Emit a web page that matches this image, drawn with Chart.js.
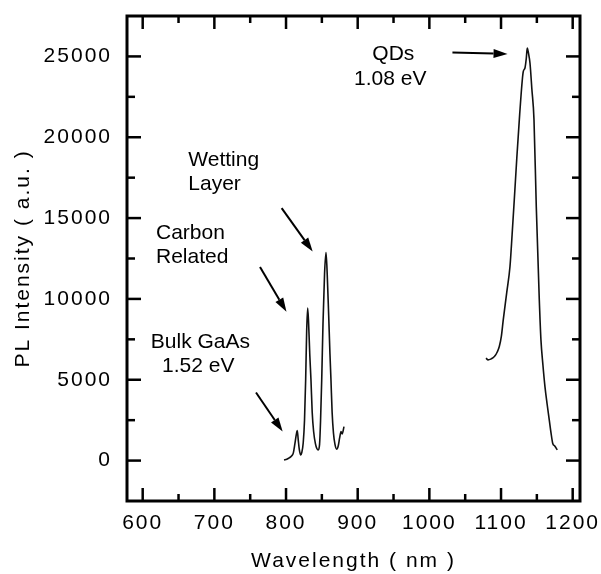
<!DOCTYPE html>
<html>
<head>
<meta charset="utf-8">
<script src="https://cdn.jsdelivr.net/npm/chart.js@4/dist/chart.umd.min.js"></script>
<style>
  body { margin: 0; background: #fff; }
  canvas { display: block; }
</style>
</head>
<body>
<canvas id="plot" width="601" height="574"></canvas>
<script>
// short wavelength part : bulk GaAs, carbon related, wetting layer
const wlShort = [797.2, 801, 805, 808, 810.1, 812.5, 814.3, 815.7, 817, 818.5, 820.5, 822, 824, 825.8, 827.4, 828.8, 830.2, 831.5, 833.2, 834.8, 836.5, 838.5, 841, 843, 845, 846.8, 848.2, 849.8, 851.6, 853.8, 855.8, 857.5, 859.5, 861.3, 862.7, 864.3, 866.2, 868.3, 870.7, 872.8, 874.8, 876.7, 878.3, 880.9];
const plShort = [40, 80, 180, 300, 460, 1080, 1600, 1860, 1300, 700, 350, 500, 1100, 2500, 5000, 8000, 9430, 8500, 6500, 5000, 3000, 1800, 1050, 750, 660, 1000, 2500, 5000, 8500, 11600, 12870, 11500, 9000, 6600, 5000, 3000, 1700, 1000, 705, 900, 1400, 1800, 1650, 2100];

// QD band
const wlQD = [1079.0, 1082, 1085.6, 1088.5, 1091.6, 1094.5, 1097.6, 1100.5, 1103.1, 1108, 1112.5, 1115.5, 1118.5, 1122, 1126, 1129.7, 1131.1, 1133.5, 1135.3, 1136.6, 1138.3, 1140.4, 1143, 1146.0, 1149.2, 1153.4, 1155.7, 1158.5, 1161.3, 1164.3, 1167.3, 1169.8, 1172.1, 1175, 1178.5];
const plQD = [6337, 6230, 6275, 6350, 6479, 6700, 7054, 7700, 8707, 10400, 12005, 14000, 16132, 18700, 21400, 23558, 24071, 24300, 24900, 25519, 25200, 24591, 23000, 21083, 15700, 9944, 7469, 5900, 4579, 3500, 2518, 1700, 1077, 900, 662];

const xTicks = [600, 700, 800, 900, 1000, 1100, 1200];
const xMinor = [650, 750, 850, 950, 1050, 1150];
const yTicks = [0, 5000, 10000, 15000, 20000, 25000];
const yMinor = [2500, 7500, 12500, 17500, 22500];

// labels, anchored in data units (baseline)
const notes = [
  { text: "QDs", x: 949.7, y: 24752, align: "center" },
  { text: "1.08 eV", x: 945.4, y: 23249, align: "center" },
  { text: "Wetting", x: 663.6, y: 18193, align: "left" },
  { text: "Layer", x: 663.6, y: 16708, align: "left" },
  { text: "Carbon", x: 618.6, y: 13700, align: "left" },
  { text: "Related", x: 618.6, y: 12215, align: "left" },
  { text: "Bulk GaAs", x: 680.6, y: 6955, align: "center" },
  { text: "1.52 eV", x: 677.6, y: 5507, align: "center" }
];
// arrows tail -> head
const arrows = [
  [1032.2, 25248, 1109.1, 25149],
  [793.9, 15619, 837.2, 12933],
  [763.7, 11968, 800.6, 9202],
  [758.1, 4208, 795.3, 1795]
];

Chart.defaults.font.family = "'Liberation Sans', Arial, sans-serif";
Chart.defaults.font.size = 21;
Chart.defaults.color = "#000";

const framePlugin = {
  id: "frame",
  beforeDraw(chart) {
    chart.ctx.letterSpacing = "2px";
  },
  afterDatasetsDraw(chart) {
    const ctx = chart.ctx;
    const a = chart.chartArea;
    const xs = chart.scales.x;
    const ys = chart.scales.y;
    ctx.save();
    ctx.letterSpacing = "0px";
    ctx.strokeStyle = "#000";
    ctx.fillStyle = "#000";

    const seg = (x0, y0, x1, y1) => {
      ctx.beginPath();
      ctx.moveTo(x0, y0);
      ctx.lineTo(x1, y1);
      ctx.stroke();
    };

    // inward ticks on all four sides
    ctx.lineWidth = 2.5;
    const tickX = (v, len) => {
      const p = xs.getPixelForValue(v);
      seg(p, a.bottom, p, a.bottom - len);
      seg(p, a.top, p, a.top + len);
    };
    const tickY = (v, len) => {
      const p = ys.getPixelForValue(v);
      seg(a.left, p, a.left + len, p);
      seg(a.right, p, a.right - len, p);
    };
    xTicks.forEach(v => tickX(v, 13));
    xMinor.forEach(v => tickX(v, 7));
    yTicks.forEach(v => tickY(v, 14));
    yMinor.forEach(v => tickY(v, 8));

    ctx.lineWidth = 3;
    ctx.strokeRect(a.left, a.top, a.right - a.left, a.bottom - a.top);

    // annotations
    ctx.font = "21px 'Liberation Sans', Arial, sans-serif";
    ctx.textBaseline = "alphabetic";
    notes.forEach(n => {
      ctx.textAlign = n.align;
      ctx.fillText(n.text, xs.getPixelForValue(n.x), ys.getPixelForValue(n.y));
    });

    ctx.lineWidth = 2;
    arrows.forEach(ar => {
      const x0 = xs.getPixelForValue(ar[0]);
      const y0 = ys.getPixelForValue(ar[1]);
      const x1 = xs.getPixelForValue(ar[2]);
      const y1 = ys.getPixelForValue(ar[3]);
      const ang = Math.atan2(y1 - y0, x1 - x0);
      const hl = 14, hw = 4.5;
      const bx = x1 - hl * Math.cos(ang);
      const by = y1 - hl * Math.sin(ang);
      seg(x0, y0, bx, by);
      ctx.beginPath();
      ctx.moveTo(x1, y1);
      ctx.lineTo(bx + hw * Math.sin(ang), by - hw * Math.cos(ang));
      ctx.lineTo(bx - hw * Math.sin(ang), by + hw * Math.cos(ang));
      ctx.closePath();
      ctx.fill();
    });
    ctx.restore();
  },
  afterDraw(chart) {
    chart.ctx.letterSpacing = "0px";
  }
};

const plot = document.getElementById("plot").getContext("2d");

let myChart = new Chart(plot, {
  type: "line",
  data: {
    datasets: [
      {
        label: "GaAs / WL",
        data: wlShort.map((w, i) => ({ x: w, y: plShort[i] })),
        borderColor: "#111",
        borderWidth: 1.6,
        pointRadius: 0,
        cubicInterpolationMode: "monotone",
      },
      {
        label: "QDs",
        data: wlQD.map((w, i) => ({ x: w, y: plQD[i] })),
        borderColor: "#111",
        borderWidth: 1.6,
        pointRadius: 0,
        cubicInterpolationMode: "monotone",
      },
    ],
  },
  options: {
    responsive: false,
    animation: false,
    events: [],
    layout: {
      padding: { top: 16, right: 21, left: 0, bottom: 0 },
    },
    plugins: {
      legend: { display: false },
      tooltip: { enabled: false },
    },
    scales: {
      x: {
        type: "linear",
        min: 578.1,
        max: 1210.2,
        grid: { display: false, drawTicks: false },
        border: { display: false },
        ticks: { padding: 10, maxRotation: 0, callback: v => String(v) },
        afterBuildTicks: s => { s.ticks = xTicks.map(v => ({ value: v })); },
        afterFit: s => {
          s.height = 73;
          s.paddingLeft = 0;
          s.paddingRight = 0;
        },
        title: {
          display: true,
          text: "Wavelength ( nm )",
          padding: { top: 0, bottom: 0 },
        },
      },
      y: {
        type: "linear",
        min: -2500,
        max: 27500,
        grid: { display: false, drawTicks: false },
        border: { display: false },
        ticks: { padding: 15, callback: v => String(v) },
        afterBuildTicks: s => { s.ticks = yTicks.map(v => ({ value: v })); },
        afterFit: s => {
          s.width = 127;
          s.paddingTop = 0;
          s.paddingBottom = 0;
        },
        title: {
          display: true,
          text: "PL Intensity ( a.u. )",
          padding: { top: 11, bottom: 0 },
        },
      },
    },
  },
  plugins: [framePlugin],
});
</script>
</body>
</html>
